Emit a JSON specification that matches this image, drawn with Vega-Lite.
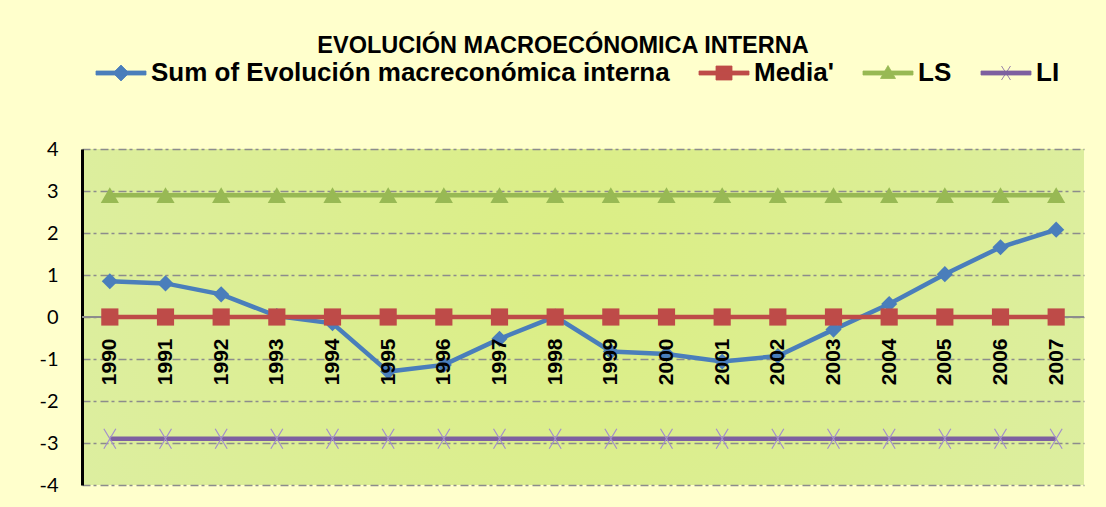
{
  "$schema": "https://vega.github.io/schema/vega-lite/v6.json",
  "width": 1002,
  "height": 336,
  "autosize": {"type": "none"},
  "padding": {"left": 82, "top": 149, "right": 22, "bottom": 22},
  "background": "#FFFFCC",
  "title": {
    "text": "EVOLUCIÓN MACROECÓNOMICA INTERNA",
    "font": "Liberation Sans",
    "fontSize": 23.5,
    "fontWeight": "bold",
    "color": "#000000",
    "anchor": "middle",
    "dx": -20,
    "offset": 3
  },
  "data": {
    "values": [
      {"year": "1990", "serie": "Sum of Evolución macreconómica interna", "value": 0.85},
      {"year": "1991", "serie": "Sum of Evolución macreconómica interna", "value": 0.80},
      {"year": "1992", "serie": "Sum of Evolución macreconómica interna", "value": 0.54},
      {"year": "1993", "serie": "Sum of Evolución macreconómica interna", "value": 0.02},
      {"year": "1994", "serie": "Sum of Evolución macreconómica interna", "value": -0.15},
      {"year": "1995", "serie": "Sum of Evolución macreconómica interna", "value": -1.30},
      {"year": "1996", "serie": "Sum of Evolución macreconómica interna", "value": -1.14},
      {"year": "1997", "serie": "Sum of Evolución macreconómica interna", "value": -0.52},
      {"year": "1998", "serie": "Sum of Evolución macreconómica interna", "value": 0.01},
      {"year": "1999", "serie": "Sum of Evolución macreconómica interna", "value": -0.82},
      {"year": "2000", "serie": "Sum of Evolución macreconómica interna", "value": -0.88},
      {"year": "2001", "serie": "Sum of Evolución macreconómica interna", "value": -1.06},
      {"year": "2002", "serie": "Sum of Evolución macreconómica interna", "value": -0.93},
      {"year": "2003", "serie": "Sum of Evolución macreconómica interna", "value": -0.30},
      {"year": "2004", "serie": "Sum of Evolución macreconómica interna", "value": 0.31},
      {"year": "2005", "serie": "Sum of Evolución macreconómica interna", "value": 1.02},
      {"year": "2006", "serie": "Sum of Evolución macreconómica interna", "value": 1.66},
      {"year": "2007", "serie": "Sum of Evolución macreconómica interna", "value": 2.08},
      {"year": "1990", "serie": "Media'", "value": 0},
      {"year": "1991", "serie": "Media'", "value": 0},
      {"year": "1992", "serie": "Media'", "value": 0},
      {"year": "1993", "serie": "Media'", "value": 0},
      {"year": "1994", "serie": "Media'", "value": 0},
      {"year": "1995", "serie": "Media'", "value": 0},
      {"year": "1996", "serie": "Media'", "value": 0},
      {"year": "1997", "serie": "Media'", "value": 0},
      {"year": "1998", "serie": "Media'", "value": 0},
      {"year": "1999", "serie": "Media'", "value": 0},
      {"year": "2000", "serie": "Media'", "value": 0},
      {"year": "2001", "serie": "Media'", "value": 0},
      {"year": "2002", "serie": "Media'", "value": 0},
      {"year": "2003", "serie": "Media'", "value": 0},
      {"year": "2004", "serie": "Media'", "value": 0},
      {"year": "2005", "serie": "Media'", "value": 0},
      {"year": "2006", "serie": "Media'", "value": 0},
      {"year": "2007", "serie": "Media'", "value": 0},
      {"year": "1990", "serie": "LS", "value": 2.9},
      {"year": "1991", "serie": "LS", "value": 2.9},
      {"year": "1992", "serie": "LS", "value": 2.9},
      {"year": "1993", "serie": "LS", "value": 2.9},
      {"year": "1994", "serie": "LS", "value": 2.9},
      {"year": "1995", "serie": "LS", "value": 2.9},
      {"year": "1996", "serie": "LS", "value": 2.9},
      {"year": "1997", "serie": "LS", "value": 2.9},
      {"year": "1998", "serie": "LS", "value": 2.9},
      {"year": "1999", "serie": "LS", "value": 2.9},
      {"year": "2000", "serie": "LS", "value": 2.9},
      {"year": "2001", "serie": "LS", "value": 2.9},
      {"year": "2002", "serie": "LS", "value": 2.9},
      {"year": "2003", "serie": "LS", "value": 2.9},
      {"year": "2004", "serie": "LS", "value": 2.9},
      {"year": "2005", "serie": "LS", "value": 2.9},
      {"year": "2006", "serie": "LS", "value": 2.9},
      {"year": "2007", "serie": "LS", "value": 2.9},
      {"year": "1990", "serie": "LI", "value": -2.9},
      {"year": "1991", "serie": "LI", "value": -2.9},
      {"year": "1992", "serie": "LI", "value": -2.9},
      {"year": "1993", "serie": "LI", "value": -2.9},
      {"year": "1994", "serie": "LI", "value": -2.9},
      {"year": "1995", "serie": "LI", "value": -2.9},
      {"year": "1996", "serie": "LI", "value": -2.9},
      {"year": "1997", "serie": "LI", "value": -2.9},
      {"year": "1998", "serie": "LI", "value": -2.9},
      {"year": "1999", "serie": "LI", "value": -2.9},
      {"year": "2000", "serie": "LI", "value": -2.9},
      {"year": "2001", "serie": "LI", "value": -2.9},
      {"year": "2002", "serie": "LI", "value": -2.9},
      {"year": "2003", "serie": "LI", "value": -2.9},
      {"year": "2004", "serie": "LI", "value": -2.9},
      {"year": "2005", "serie": "LI", "value": -2.9},
      {"year": "2006", "serie": "LI", "value": -2.9},
      {"year": "2007", "serie": "LI", "value": -2.9}
    ]
  },
  "encoding": {
    "x": {
      "field": "year",
      "type": "ordinal",
      "scale": {"type": "point", "padding": 0.5},
      "axis": {
        "title": null,
        "offset": -168,
        "labelAngle": -90,
        "labelFont": "Liberation Sans",
        "labelFontSize": 21,
        "labelFontWeight": "bold",
        "labelColor": "#000000",
        "labelPadding": 21,
        "ticks": false,
        "grid": false,
        "domain": false,
        "zindex": 1
      }
    },
    "y": {
      "field": "value",
      "type": "quantitative",
      "scale": {"domain": [-4, 4], "nice": false, "zero": false},
      "axis": {
        "title": null,
        "values": [-4, -3, -2, -1, 0, 1, 2, 3, 4],
        "labelExpr": "'' + datum.value",
        "labelFont": "Lato",
        "labelFontSize": 20,
        "labelColor": "#000000",
        "labelPadding": 24,
        "ticks": false,
        "domainColor": "#000000",
        "domainWidth": 3,
        "gridColor": "#8C8C8C",
        "gridWidth": 1.5,
        "gridDash": [8, 3, 3, 4],
        "zindex": 0
      }
    }
  },
  "layer": [
    {
      "mark": {"type": "rule", "color": "#8C8C8C", "strokeWidth": 1},
      "encoding": {"y": {"datum": 0}, "x": {}}
    },
    {
      "mark": {"type": "line", "strokeWidth": 4.5},
      "encoding": {
        "color": {
          "field": "serie",
          "type": "nominal",
          "scale": {
            "domain": ["Sum of Evolución macreconómica interna", "Media'", "LS", "LI"],
            "range": ["#4A7EBB", "#BE4B48", "#98B954", "#7D60A0"]
          },
          "legend": {
            "title": null,
            "orient": "none",
            "direction": "horizontal",
            "legendX": 12,
            "legendY": -89,
            "labelFont": "Liberation Sans",
            "labelFontSize": 26,
            "labelFontWeight": "bold",
            "labelColor": "#000000",
            "labelLimit": 1000,
            "symbolSize": 100,
            "symbolOffset": 14,
            "labelOffset": 17,
            "columnPadding": 27,
            "encode": {
              "symbols": {
                "update": {
                  "shape": {"signal": "['M-5,-0.4H5V0.4H-5ZM0,-1.6L1.6,0L0,1.6L-1.6,0Z','M-5,-0.4H5V0.4H-5ZM-1.6,-1.4H1.6V1.4H-1.6Z','M-5,-0.4H5V0.4H-5ZM0,-1.5L1.5,1.1H-1.5Z','M-5,-0.4H5V0.4H-5ZM-0.9,-1.4L0.9,1.4M0.9,-1.4L-0.9,1.4'][datum.index]"},
                  "fill": {"signal": "scale('color', datum.value)"},
                  "stroke": {"signal": "scale('color', datum.value)"},
                  "strokeWidth": {"value": 0.8},
                  "opacity": {"value": 1},
                  "fillOpacity": {"value": 1}
                }
              }
            }
          }
        }
      }
    },
    {
      "transform": [{"filter": {"field": "serie", "oneOf": ["Sum of Evolución macreconómica interna", "Media'", "LS"]}}],
      "mark": {"type": "point", "filled": true, "opacity": 1},
      "encoding": {
        "color": {"field": "serie", "type": "nominal"},
        "shape": {
          "field": "serie",
          "type": "nominal",
          "scale": {
            "domain": ["Sum of Evolución macreconómica interna", "Media'", "LS"],
            "range": ["diamond", "square", "triangle-up"]
          },
          "legend": null
        },
        "size": {
          "field": "serie",
          "type": "nominal",
          "scale": {
            "domain": ["Sum of Evolución macreconómica interna", "Media'", "LS"],
            "range": [260, 330, 300]
          },
          "legend": null
        }
      }
    },
    {
      "transform": [{"filter": {"field": "serie", "equal": "LI"}}],
      "mark": {
        "type": "point",
        "filled": false,
        "shape": "M-0.6,-1L0.6,1M0.6,-1L-0.6,1",
        "size": 400,
        "stroke": "#A38FCB",
        "strokeWidth": 1.2,
        "opacity": 1
      }
    }
  ],
  "config": {
    "view": {
      "stroke": null,
      "fill": {
        "gradient": "radial",
        "x1": 0.5, "y1": 0.45, "r1": 0,
        "x2": 0.5, "y2": 0.45, "r2": 0.75,
        "stops": [
          {"offset": 0, "color": "#DBEE84"},
          {"offset": 1, "color": "#DDEEAA"}
        ]
      }
    }
  }
}
